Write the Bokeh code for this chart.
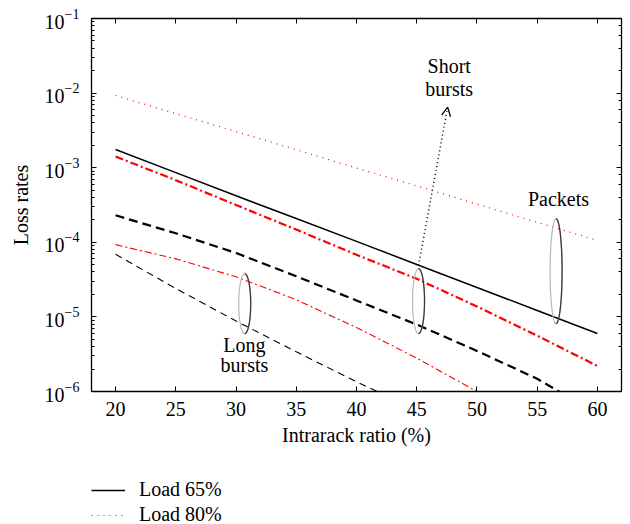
import math
from bokeh.plotting import figure
from bokeh.layouts import column
from bokeh.models import (LogAxis, LinearAxis, FixedTicker, Legend, LegendItem,
                          Arrow, OpenHead, Range1d, CustomJSTickFormatter)
from bokeh.embed import file_html
from bokeh.resources import INLINE
from bokeh.core.properties import value

FONT = "Liberation Serif"

# ---- data ----
x_ticks = [20, 25, 30, 35, 40, 45, 50, 55, 60]

x_all = [20, 25, 30, 35, 40, 45, 50, 55, 60]
load65_packets = [1.75e-3, 8.6e-4, 4.2e-4, 2.08e-4, 1.03e-4, 5.05e-5, 2.48e-5, 1.22e-5, 6.0e-6]
load80_packets = [9.3e-3, 5.3e-3, 3.05e-3, 1.74e-3, 9.9e-4, 5.7e-4, 3.25e-4, 1.85e-4, 1.06e-4]
load80_short = [1.41e-3, 6.8e-4, 3.16e-4, 1.48e-4, 6.8e-5, 3.24e-5, 1.38e-5, 5.6e-6, 2.2e-6]
load65_short = [2.3e-4, 1.32e-4, 7.2e-5, 3.5e-5, 1.66e-5, 7.9e-6, 3.5e-6, 1.48e-6, 5.0e-7]
x_load80_long = [20, 25, 30, 35, 40, 45, 50]
load80_long = [9.3e-5, 6.0e-5, 3.45e-5, 1.7e-5, 7.2e-6, 2.8e-6, 1.0e-6]
x_load65_long = [20, 25, 30, 35, 40, 45]
load65_long = [6.9e-5, 2.4e-5, 8.8e-6, 3.4e-6, 1.35e-6, 5.6e-7]

legend_labels = ["Load 65%", "Load 80%"]

# annotations: (x, y) in data units
ellipse_x = [30.72, 45.15, 56.57]
ellipse_y = [1.5e-5, 1.63e-5, 4.1e-5]
ellipse_h = [60, 65, 105]
ann_text = ["Long", "bursts", "Short", "bursts", "Packets"]
ann_x = [30.7, 30.7, 47.7, 47.7, 56.77]
ann_y = [4.2e-6, 2.24e-6, 2.3e-2, 1.15e-2, 3.8e-4]

FRAME_W, FRAME_H = 530, 373
X0, X1 = 18, 62
Y0, Y1 = 1e-6, 1e-1

p = figure(width=623, height=466, x_range=Range1d(X0, X1),
           y_range=Range1d(Y0, Y1), y_axis_type="log",
           output_backend="svg", toolbar_location=None,
           min_border_left=91, min_border_right=2, min_border_top=18,
           min_border_bottom=75, outline_line_color="black")
p.grid.visible = False
p.background_fill_color = "white"

STY65P = dict(line_color="black", line_width=1.5)
STY80P = dict(line_color="#ff0000", line_width=1.2, line_dash="1 5")

p.line(x_all, load65_packets, **STY65P)
p.line(x_all, load80_packets, **STY80P)
p.line(x_all, load80_short, line_color="#ff0000", line_width=2.2, line_dash="8 3 2 3")
p.line(x_all, load65_short, line_color="black", line_width=2.2, line_dash="9 5")
p.line(x_load80_long, load80_long, line_color="#ff0000", line_width=1.1, line_dash="7 3 2 3")
p.line(x_load65_long, load65_long, line_color="black", line_width=1.1, line_dash="7 5")

# ellipses: faint full outline plus a darker right-hand half (shaded look)
p.ellipse(x=ellipse_x, y=ellipse_y, width=[12, 12, 12], height=ellipse_h,
          width_units="screen", height_units="screen",
          fill_color=None, line_color="#b8b8b8", line_width=1.2)
px_per_x = FRAME_W / (X1 - X0)
px_per_dec = FRAME_H / (math.log10(Y1) - math.log10(Y0))
half_xs, half_ys = [], []
for cx, cy, h in zip(ellipse_x, ellipse_y, ellipse_h):
    ts = [-math.pi / 2 + k * math.pi / 30 for k in range(31)]
    half_xs.append([cx + (6 / px_per_x) * math.cos(t) for t in ts])
    half_ys.append([cy * 10 ** ((h / 2 / px_per_dec) * math.sin(t)) for t in ts])
p.multi_line(half_xs, half_ys, line_color="#3a3a3a", line_width=1.3)

p.text(x=ann_x, y=ann_y, text=ann_text, text_font=value(FONT),
       text_font_size="20px", text_align="center", text_baseline="middle",
       text_color="black")

p.add_layout(Arrow(end=OpenHead(size=9, line_width=1.3, line_color="black"),
                   x_start=45.15, y_start=4.9e-5, x_end=47.57, y_end=6.5e-3,
                   line_color="black", line_width=1.5, line_dash="1 3"))

# axes styling
def style(ax):
    ax.axis_line_color = "black"
    ax.axis_line_width = 1.3
    ax.major_tick_in = 5
    ax.major_tick_out = 0
    ax.minor_tick_in = 3
    ax.minor_tick_out = 0
    ax.major_tick_line_color = "black"
    ax.minor_tick_line_color = "black"
    ax.major_label_text_font = FONT
    ax.major_label_text_font_size = "20px"
    ax.major_label_text_color = "black"
    ax.axis_label_text_font = FONT
    ax.axis_label_text_font_size = "20px"
    ax.axis_label_text_font_style = "normal"
    ax.axis_label_text_color = "black"

xa = p.xaxis[0]
xa.ticker = FixedTicker(ticks=x_ticks)
xa.axis_label = "Intrarack ratio (%)"
style(xa)
xa.major_label_standoff = 10
xa.axis_label_standoff = 5

ya = p.yaxis[0]
ya.axis_label = "Loss rates"
style(ya)
ya.major_label_standoff = 12
ya.axis_label_standoff = 10

top = LinearAxis(ticker=FixedTicker(ticks=x_ticks),
                 formatter=CustomJSTickFormatter(code="return ''"))
style(top)
top.major_label_standoff = 0
p.add_layout(top, "above")

right = LogAxis(formatter=CustomJSTickFormatter(code="return ''"))
style(right)
right.major_label_standoff = 0
p.add_layout(right, "right")

# legend strip below the plot (proxy renderers carry the real series, kept out of view)
lg = figure(width=623, height=60, output_backend="svg", toolbar_location=None,
            x_axis_location=None, y_axis_location=None, outline_line_color=None,
            min_border=0, x_range=Range1d(0, 1), y_range=Range1d(0, 1))
lg.grid.visible = False
g65 = lg.line(x_all, load65_packets, **STY65P)
g80 = lg.line(x_all, load80_packets, **STY80P)
legend = Legend(items=[LegendItem(label=legend_labels[0], renderers=[g65]),
                       LegendItem(label=legend_labels[1], renderers=[g80])],
                location=(0, 0), orientation="vertical",
                glyph_width=34, glyph_height=20, label_height=20,
                label_standoff=14, spacing=2, padding=0, margin=0,
                border_line_color=None, background_fill_alpha=0,
                label_text_font=FONT, label_text_font_size="20px",
                label_text_color="black")
lg.add_layout(legend, "center")

layout = column(p, lg, spacing=0)
open("out.html", "w").write(file_html(layout, INLINE))
